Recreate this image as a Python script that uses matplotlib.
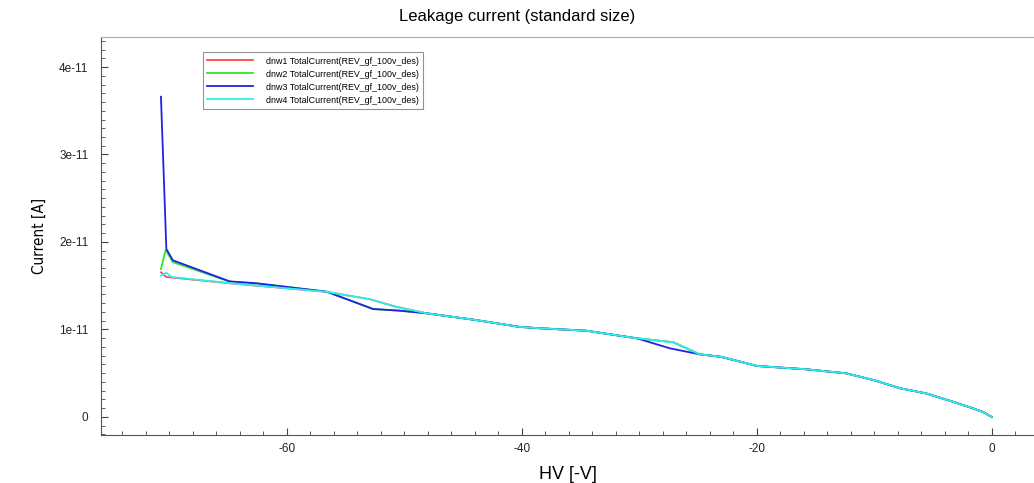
import matplotlib
matplotlib.use('Agg')
import matplotlib.pyplot as plt
from matplotlib.ticker import MultipleLocator, FixedLocator, FuncFormatter

plt.rcParams['font.family'] = ['Liberation Sans', 'DejaVu Sans']

# values (V, current in units of 1e-11 A)
v_head_red = [-70.7, -70.24, -64.85, -56.6, -52.9, -50.7]
i_head_red = [1.654, 1.60, 1.528, 1.43, 1.345, 1.26]
v_head_green = [-70.7, -70.3, -69.7, -64.85, -62.6, -56.6, -52.65, -50.4]
i_head_green = [1.69, 1.91, 1.77, 1.546, 1.528, 1.432, 1.234, 1.215]
v_head_blue = [-70.7, -70.24, -69.68, -64.85, -62.58, -56.6, -52.65, -50.4]
i_head_blue = [3.66, 1.92, 1.79, 1.55, 1.528, 1.432, 1.234, 1.215]
v_head_cyan = [-70.7, -70.24, -69.8, -64.85, -56.6, -52.9, -50.7]
i_head_cyan = [1.615, 1.65, 1.60, 1.53, 1.43, 1.345, 1.26]

# shared tail, with the upper / lower path around -27 V
v_mid = [-48.1, -44.0, -40.2, -38.5, -34.5, -30.2]
i_mid = [1.185, 1.11, 1.03, 1.014, 0.986, 0.899]
v_bump_up = [-27.1]
i_bump_up = [0.854]
v_bump_low = [-27.4]
i_bump_low = [0.785]
v_tail = [-24.85, -23.1, -21.4, -20.0, -15.8, -12.4, -10.0, -7.8, -5.6, -3.2, -1.6, -0.7, 0.0]
i_tail = [0.716, 0.689, 0.632, 0.583, 0.545, 0.499, 0.42, 0.328, 0.27, 0.17, 0.099, 0.055, 0.0]

x_ticks = [-60, -40, -20, 0]
y_ticks = [0, 1, 2, 3, 4]

names = ['dnw1 TotalCurrent(REV_gf_100v_des)', 'dnw2 TotalCurrent(REV_gf_100v_des)',
         'dnw3 TotalCurrent(REV_gf_100v_des)', 'dnw4 TotalCurrent(REV_gf_100v_des)']
colors = ['#ff4a4a', '#2ee62e', '#2020e8', '#2af0f0']

series = [
    (v_head_red + v_mid + v_bump_up + v_tail, i_head_red + i_mid + i_bump_up + i_tail),
    (v_head_green + v_mid + v_bump_up + v_tail, i_head_green + i_mid + i_bump_up + i_tail),
    (v_head_blue + v_mid + v_bump_low + v_tail, i_head_blue + i_mid + i_bump_low + i_tail),
    (v_head_cyan + v_mid + v_bump_up + v_tail, i_head_cyan + i_mid + i_bump_up + i_tail),
]

fig = plt.figure(figsize=(10.34, 4.83), dpi=100)
ax = fig.add_axes([0.0977, 0.0994, 0.9023, 0.824])

for (v, i), c, n in zip(series, colors, names):
    ax.plot(v, [x * 1e-11 for x in i], color=c, lw=1.3, label=n)

ax.set_xlim(-75.8, 3.6)
ax.set_ylim(-0.206e-11, 4.343e-11)
ax.xaxis.set_major_locator(FixedLocator(x_ticks))
ax.xaxis.set_minor_locator(MultipleLocator(2))
ax.yaxis.set_major_locator(FixedLocator([k * 1e-11 for k in y_ticks]))
ax.yaxis.set_minor_locator(MultipleLocator(0.1e-11))

def yfmt(y, pos):
    k = int(round(y / 1e-11))
    return '0' if k == 0 else '%de-11' % k

ax.yaxis.set_major_formatter(FuncFormatter(yfmt))
ax.xaxis.set_major_formatter(FuncFormatter(lambda x, p: '%d' % x))
ax.tick_params(which='both', direction='in', colors='#444444', labelsize=8.5)
ax.tick_params(which='both', labelcolor='#222222')
ax.tick_params(which='major', length=5, width=0.8)
ax.tick_params(which='minor', length=3, width=0.6)
ax.tick_params(axis='y', pad=9)
ax.tick_params(axis='x', pad=6)
ax.spines['right'].set_visible(False)
ax.spines['top'].set_color('#aaaaaa')
ax.spines['left'].set_color('#555555')
ax.spines['bottom'].set_color('#555555')

ax.set_xlabel('HV [-V]', fontsize=13, labelpad=8)
ax.set_ylabel('Current [A]', fontsize=11, labelpad=9, family='DejaVu Sans',
              fontstretch='condensed')
fig.text(0.5, 0.966, 'Leakage current (standard size)', ha='center', va='center', fontsize=12)

leg = ax.legend(loc='upper left', bbox_to_anchor=(0.109, 0.962), borderaxespad=0,
                fontsize=6.4, fancybox=False, handlelength=5.2, handletextpad=1.4,
                labelspacing=0.45, borderpad=0.5)
leg.get_frame().set_edgecolor('#777777')
leg.get_frame().set_linewidth(0.8)

plt.savefig('out.png', dpi=100)
